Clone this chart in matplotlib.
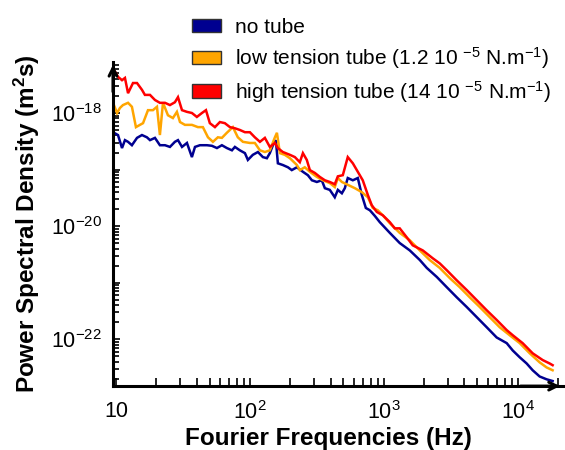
import numpy as np
import matplotlib
matplotlib.use("Agg")
from matplotlib import pyplot as plt
from matplotlib.patches import Patch
from matplotlib.ticker import FixedLocator, FixedFormatter, LogLocator, NullFormatter

plt.rcParams['font.family'] = ['Liberation Sans', 'DejaVu Sans']
plt.rcParams['mathtext.fontset'] = 'custom'
plt.rcParams['mathtext.rm'] = 'Liberation Sans'
plt.rcParams['mathtext.it'] = 'Liberation Sans:italic'
plt.rcParams['mathtext.bf'] = 'Liberation Sans:bold'

# values, as log10(frequency in Hz) and log10(PSD in m^2 s)
no_tube_logf = [0.978, 1.015, 1.045, 1.067, 1.090, 1.119, 1.157, 1.194, 1.231, 1.254, 1.291, 1.328,
                1.366, 1.403, 1.440, 1.463, 1.493, 1.530, 1.567, 1.590, 1.627, 1.679, 1.716, 1.754,
                1.791, 1.828, 1.866, 1.888, 1.925, 1.963, 1.985, 2.022, 2.060, 2.097, 2.127, 2.149,
                2.172, 2.194, 2.209, 2.246, 2.284, 2.313, 2.351, 2.396, 2.433, 2.463, 2.500, 2.537,
                2.560, 2.597, 2.634, 2.657, 2.687, 2.709, 2.731, 2.769, 2.806, 2.836, 2.866, 2.896,
                2.933, 2.970, 3.045, 3.119, 3.194, 3.269, 3.321, 3.396, 3.470, 3.545, 3.619, 3.694,
                3.769, 3.843, 3.918, 3.963, 4.015, 4.067, 4.112, 4.164, 4.216, 4.261]
no_tube_logp = [-18.34, -18.39, -18.62, -18.48, -18.51, -18.57, -18.44, -18.39, -18.43, -18.48, -18.44, -18.57,
                -18.57, -18.60, -18.51, -18.48, -18.60, -18.53, -18.78, -18.60, -18.57, -18.57, -18.58, -18.62,
                -18.57, -18.62, -18.66, -18.60, -18.66, -18.71, -18.83, -18.74, -18.69, -18.78, -18.80, -18.71,
                -18.57, -18.48, -18.89, -18.92, -18.96, -19.01, -18.96, -19.04, -19.10, -19.19, -19.22, -19.19,
                -19.33, -19.36, -19.49, -19.36, -19.42, -19.33, -19.15, -19.19, -19.15, -19.45, -19.68, -19.72,
                -19.82, -19.93, -20.12, -20.30, -20.43, -20.60, -20.74, -20.90, -21.08, -21.26, -21.43, -21.61,
                -21.79, -21.97, -22.07, -22.20, -22.32, -22.43, -22.55, -22.66, -22.71, -22.74]

low_logf = [0.978, 1.008, 1.030, 1.052, 1.090, 1.119, 1.149, 1.179, 1.202, 1.239, 1.276, 1.306,
            1.328, 1.351, 1.388, 1.425, 1.455, 1.478, 1.515, 1.567, 1.612, 1.649, 1.687, 1.724,
            1.761, 1.791, 1.828, 1.873, 1.910, 1.948, 2.000, 2.037, 2.075, 2.112, 2.149, 2.187,
            2.202, 2.224, 2.261, 2.299, 2.351, 2.373, 2.410, 2.448, 2.500, 2.545, 2.597, 2.634,
            2.657, 2.687, 2.731, 2.784, 2.836, 2.881, 2.918, 2.955, 2.993, 3.045, 3.119, 3.194,
            3.269, 3.343, 3.418, 3.493, 3.567, 3.642, 3.716, 3.791, 3.866, 3.940, 4.015, 4.090,
            4.164, 4.216, 4.261]
low_logp = [-17.82, -18.00, -17.91, -17.86, -17.82, -17.89, -18.25, -18.21, -18.18, -17.95, -17.95, -17.89,
            -18.39, -17.82, -18.04, -18.09, -17.98, -18.16, -18.21, -18.21, -18.25, -18.25, -18.43, -18.51,
            -18.43, -18.44, -18.35, -18.25, -18.43, -18.51, -18.53, -18.53, -18.66, -18.69, -18.66, -18.43,
            -18.35, -18.71, -18.74, -18.80, -18.92, -19.01, -18.96, -19.04, -19.13, -19.19, -19.24, -19.31,
            -19.15, -19.22, -19.27, -19.33, -19.40, -19.49, -19.68, -19.72, -19.81, -19.95, -20.12, -20.25,
            -20.43, -20.60, -20.74, -20.92, -21.08, -21.26, -21.43, -21.61, -21.79, -21.93, -22.07, -22.25,
            -22.41, -22.50, -22.55]

high_logf = [0.993, 1.015, 1.045, 1.067, 1.090, 1.127, 1.157, 1.194, 1.216, 1.254, 1.291, 1.328,
             1.366, 1.403, 1.440, 1.463, 1.493, 1.530, 1.567, 1.604, 1.642, 1.672, 1.701, 1.739,
             1.776, 1.813, 1.851, 1.888, 1.925, 1.963, 2.000, 2.037, 2.075, 2.112, 2.149, 2.187,
             2.209, 2.246, 2.299, 2.336, 2.373, 2.396, 2.425, 2.448, 2.485, 2.522, 2.560, 2.597,
             2.634, 2.657, 2.694, 2.731, 2.769, 2.806, 2.843, 2.881, 2.910, 2.948, 2.993, 3.045,
             3.082, 3.119, 3.172, 3.216, 3.291, 3.366, 3.418, 3.470, 3.545, 3.619, 3.694, 3.769,
             3.843, 3.918, 3.963, 4.037, 4.112, 4.187, 4.239, 4.261]
high_logp = [-17.27, -17.36, -17.42, -17.38, -17.65, -17.47, -17.47, -17.59, -17.68, -17.68, -17.77, -17.82,
             -17.82, -17.86, -17.81, -17.72, -17.95, -17.98, -18.00, -18.07, -18.00, -17.95, -18.18, -18.25,
             -18.16, -18.18, -18.25, -18.27, -18.30, -18.34, -18.34, -18.43, -18.51, -18.44, -18.60, -18.53,
             -18.62, -18.69, -18.74, -18.78, -18.87, -18.71, -18.83, -19.01, -19.06, -19.13, -19.19, -19.22,
             -19.26, -19.12, -19.10, -18.78, -18.89, -19.04, -19.19, -19.45, -19.63, -19.75, -19.81, -19.93,
             -20.04, -20.04, -20.20, -20.34, -20.43, -20.57, -20.66, -20.78, -20.96, -21.13, -21.31, -21.49,
             -21.66, -21.84, -21.93, -22.07, -22.25, -22.37, -22.43, -22.46]

labels = ["no tube",
          "low tension tube (1.2 10 $^{-5}$ N.m$^{-1}$)",
          "high tension tube (14 10 $^{-5}$ N.m$^{-1}$)"]
colors = ["#000090", "#FFA500", "#FF0000"]

fig = plt.figure(figsize=(5.65, 4.5), dpi=100)
ax = fig.add_axes([0.2, 0.142, 0.796, 0.72])

series = [(no_tube_logf, no_tube_logp), (low_logf, low_logp), (high_logf, high_logp)]
for (lf, lp), c in zip(series, colors):
    ax.plot(10 ** np.array(lf), 10 ** np.array(lp), color=c, lw=1.8, solid_joinstyle='miter')

ax.set_xscale('log')
ax.set_yscale('log')
ax.set_xlim(9.5, 2.17e4)
ax.set_ylim(10 ** -22.83, 10 ** -17.1)

for s in ['top', 'right']:
    ax.spines[s].set_visible(False)
for s in ['left', 'bottom']:
    ax.spines[s].set_linewidth(2.2)

ax.annotate('', xy=(1.0, 0), xytext=(0.9, 0), xycoords='axes fraction',
            arrowprops=dict(arrowstyle='->', lw=2.2, color='k', mutation_scale=14), annotation_clip=False)
ax.annotate('', xy=(0, 1.0), xytext=(0, 0.9), xycoords='axes fraction',
            arrowprops=dict(arrowstyle='->', lw=2.2, color='k', mutation_scale=14), annotation_clip=False)

xt = [10, 100, 1000, 10000]
ax.xaxis.set_major_locator(FixedLocator(xt))
ax.xaxis.set_major_formatter(FixedFormatter(['10', '$10^2$', '$10^3$', '$10^4$']))
ax.xaxis.set_minor_locator(LogLocator(base=10, subs=np.arange(2, 10), numticks=20))
ax.xaxis.set_minor_formatter(NullFormatter())

yt = [1e-22, 1e-21, 1e-20, 1e-19, 1e-18]
ax.yaxis.set_major_locator(FixedLocator(yt))
ax.yaxis.set_major_formatter(FixedFormatter(['$10^{-22}$', '', '$10^{-20}$', '', '$10^{-18}$']))
ax.yaxis.set_minor_locator(LogLocator(base=10, subs=np.arange(2, 10), numticks=20))
ax.yaxis.set_minor_formatter(NullFormatter())

ax.tick_params(which='both', direction='in', width=1.2, labelsize=15.5, pad=8)
ax.tick_params(which='major', length=5)
ax.tick_params(which='minor', length=4)
ax.tick_params(axis='x', which='both', length=6, pad=11)

ax.set_xlabel('Fourier Frequencies (Hz)', fontsize=17.5, fontweight='bold')
ax.xaxis.set_label_coords(0.478, -0.125)
ax.set_ylabel(r'Power Spectral Density (m$^{\mathbf{2}}$s)', fontsize=17.5, fontweight='bold', labelpad=6)

handles = [Patch(facecolor=c, edgecolor='#333333', linewidth=1) for c in colors]
fig.legend(handles, labels, loc='upper left', bbox_to_anchor=(192 / 565, 1 - 18 / 450),
           frameon=False, fontsize=15, handlelength=1.4, handleheight=0.62,
           handletextpad=0.65, labelspacing=0.38, borderpad=0, borderaxespad=0)

fig.savefig("out.png", dpi=100)
